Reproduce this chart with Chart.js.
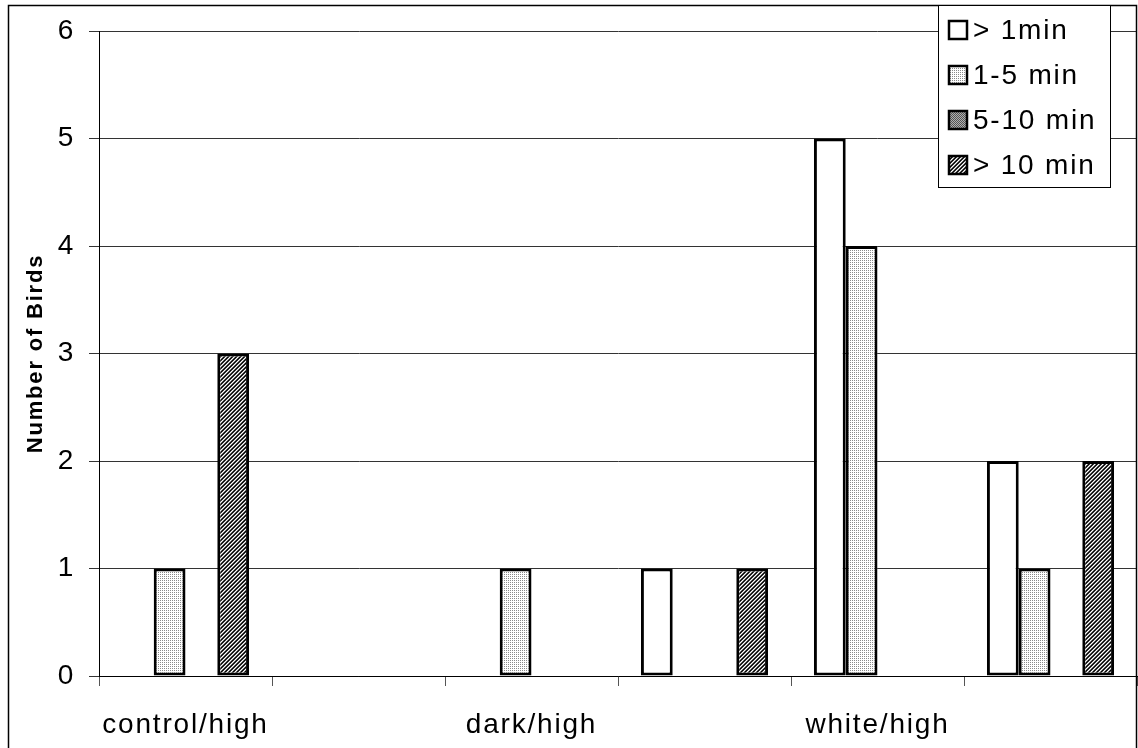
<!DOCTYPE html>
<html>
<head>
<meta charset="utf-8">
<script src="https://cdn.jsdelivr.net/npm/chart.js@4/dist/chart.umd.min.js"></script>
<style>
  html, body { margin: 0; padding: 0; background: #fff; }
  #wrap { width: 1138px; height: 748px; }
</style>
</head>
<body>
<div id="wrap"><canvas id="birdChart" width="1138" height="748"></canvas></div>
<script>
// data
const categories = ['control/high', '', 'dark/high', '', 'white/high', ''];
const seriesNames = ['> 1min', '1-5 min', '5-10 min', '> 10 min'];
const under1 = [0, 0, 0, 1, 5, 2];
const min1to5 = [1, 0, 1, 0, 4, 1];
const min5to10 = [0, 0, 0, 0, 0, 0];
const over10 = [3, 0, 0, 1, 0, 2];
const yTicks = [0, 1, 2, 3, 4, 5, 6];

const FONT = '"Liberation Sans", Arial, sans-serif';
const SPACING = '1.8px'; // the original lettering runs a bit wider than Arial

// small tiles for the excel-like fill patterns
function makePattern(size, paint) {
  const c = document.createElement('canvas');
  c.width = size;
  c.height = size;
  paint(c.getContext('2d'));
  return document.createElement('canvas').getContext('2d').createPattern(c, 'repeat');
}

const lightDots = makePattern(2, g => {
  g.fillStyle = '#fff'; g.fillRect(0, 0, 2, 2);
  g.fillStyle = '#8a8a8a'; g.fillRect(0, 0, 1, 1);
});
const greyDots = makePattern(2, g => {
  g.fillStyle = '#b0b0b0'; g.fillRect(0, 0, 2, 2);
  g.fillStyle = '#555'; g.fillRect(0, 0, 1, 1); g.fillRect(1, 1, 1, 1);
});
const hatch = makePattern(4, g => {
  const shades = ['#000', '#444', '#fff', '#888'];
  for (let x = 0; x < 4; x++) {
    for (let y = 0; y < 4; y++) {
      g.fillStyle = shades[(x + y) % 4];
      g.fillRect(x, y, 1, 1);
    }
  }
});
const fills = ['#ffffff', lightDots, greyDots, hatch];

const spacingPlugin = {
  id: 'spacing',
  beforeUpdate(chart) { chart.ctx.letterSpacing = SPACING; },
  beforeDraw(chart) { chart.ctx.letterSpacing = SPACING; }
};

// legend box and outer frame drawn by hand
const framePlugin = {
  id: 'frame',
  afterDraw(chart) {
    const ctx = chart.ctx;
    ctx.save();
    ctx.strokeStyle = '#000';
    ctx.lineWidth = 1.5;
    ctx.strokeRect(8.5, 5.5, 1128, 800);

    ctx.fillStyle = '#fff';
    ctx.fillRect(938.5, 5.5, 172, 182);
    ctx.lineWidth = 1;
    ctx.strokeRect(938.5, 5.5, 172, 182);

    ctx.font = '28px ' + FONT;
    ctx.textBaseline = 'middle';
    chart.data.datasets.forEach((ds, i) => {
      const cy = 30 + i * 45;
      ctx.fillStyle = ds.backgroundColor;
      ctx.fillRect(949, cy - 9, 18, 18);
      ctx.lineWidth = 2.5;
      ctx.strokeStyle = '#000';
      ctx.strokeRect(949, cy - 9, 18, 18);
      ctx.fillStyle = '#000';
      ctx.fillText(ds.label, 973, cy + 1);
    });
    ctx.restore();
  }
};

const seriesData = [under1, min1to5, min5to10, over10];

new Chart(document.getElementById('birdChart').getContext('2d'), {
  type: 'bar',
  data: {
    labels: categories,
    datasets: seriesNames.map((name, i) => ({
      label: name,
      data: seriesData[i],
      backgroundColor: fills[i],
      borderColor: '#000',
      borderWidth: 3,
      borderSkipped: false,
      categoryPercentage: 0.735,
      barPercentage: 1
    }))
  },
  options: {
    responsive: false,
    animation: false,
    layout: { padding: { top: 31, right: 1, left: 0, bottom: 0 } },
    plugins: {
      legend: { display: false },
      tooltip: { enabled: false }
    },
    scales: {
      x: {
        grid: { offset: true, drawOnChartArea: false, tickLength: 10, color: '#555' },
        border: { color: '#000', width: 1 },
        ticks: {
          autoSkip: false,
          maxRotation: 0,
          padding: 22,
          color: '#000',
          font: { family: FONT, size: 28 }
        },
        afterFit(scale) { scale.height = 72; }
      },
      y: {
        min: 0,
        max: 6,
        afterBuildTicks(scale) { scale.ticks = yTicks.map(v => ({ value: v })); },
        grid: { color: '#333', tickLength: 10 },
        border: { color: '#000', width: 1 },
        ticks: {
          padding: 14,
          color: '#000',
          font: { family: FONT, size: 28 }
        },
        title: {
          display: true,
          text: 'Number of Birds',
          color: '#000',
          font: { family: FONT, size: 22, weight: 'bold' },
          padding: { top: 23, bottom: 0 }
        },
        afterFit(scale) { scale.width = 99; }
      }
    }
  },
  plugins: [spacingPlugin, framePlugin]
});
</script>
</body>
</html>
